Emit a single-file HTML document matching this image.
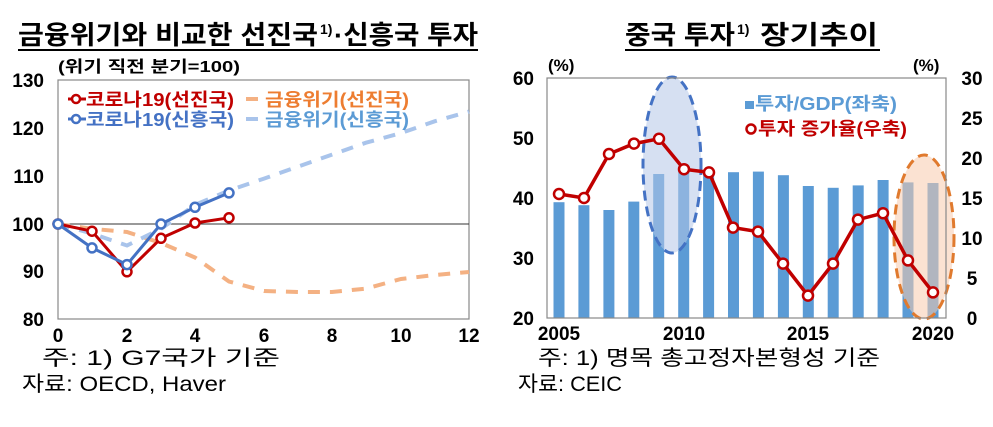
<!DOCTYPE html>
<html><head><meta charset="utf-8"><style>
body{margin:0;background:#fff;width:993px;height:422px;overflow:hidden;font-family:"Liberation Sans","Noto Sans CJK KR",sans-serif}
svg text{font-family:"Liberation Sans","Noto Sans CJK KR",sans-serif}
</style></head><body>
<svg width="993" height="422" viewBox="0 0 993 422" xmlns="http://www.w3.org/2000/svg">
<text x="18" y="44" font-size="26" font-weight="bold" textLength="300" lengthAdjust="spacingAndGlyphs">금융위기와 비교한 선진국</text>
<text x="320" y="34" font-size="14" font-weight="bold">1)</text>
<text x="334" y="44" font-size="26" font-weight="bold" textLength="144" lengthAdjust="spacingAndGlyphs">·신흥국 투자</text>
<line x1="18" y1="50" x2="478" y2="50" stroke="#000" stroke-width="2"/>
<text x="625" y="44" font-size="26" font-weight="bold" textLength="110" lengthAdjust="spacingAndGlyphs">중국 투자</text>
<text x="737" y="34" font-size="14" font-weight="bold">1)</text>
<text x="760" y="44" font-size="26" font-weight="bold" textLength="118" lengthAdjust="spacingAndGlyphs">장기추이</text>
<line x1="625" y1="50" x2="880" y2="50" stroke="#000" stroke-width="2"/>

<!-- left chart -->
<text x="58" y="72" font-size="16" font-weight="bold" textLength="182" lengthAdjust="spacingAndGlyphs">(위기 직전 분기=100)</text>
<rect x="58" y="80" width="411" height="239" fill="none" stroke="#888" stroke-width="1.2"/>
<line x1="58" y1="224" x2="469" y2="224" stroke="#333" stroke-width="1"/>
<g font-size="19" font-weight="bold" text-anchor="end">
<text x="44" y="87">130</text><text x="44" y="135">120</text><text x="44" y="183">110</text><text x="44" y="231">100</text><text x="44" y="278">90</text><text x="44" y="326">80</text></g>
<g font-size="19" font-weight="bold" text-anchor="middle">
<text x="58" y="342">0</text><text x="127" y="342">2</text><text x="195" y="342">4</text><text x="264" y="342">6</text><text x="332" y="342">8</text><text x="401" y="342">10</text><text x="469" y="342">12</text></g>
<polyline fill="none" stroke="#F4B183" stroke-width="4" stroke-dasharray="12,10" points="58,224 92,228.8 127,232 161,243 195,257.5 229,281.5 264,291 298,292 332,292 366,288.6 401,279 435,275 469,272"/>
<polyline fill="none" stroke="#A9C4EB" stroke-width="4" stroke-dasharray="12,10" points="58,224 92,233.6 127,245.5 161,228.8 195,204.9 229,190.5 264,178.6 298,166.6 332,154.6 366,142.7 401,133.1 435,121.2 469,111.6"/>
<polyline fill="none" stroke="#C00000" stroke-width="3" points="58,224 92,231.2 127,271.8 161,238.3 195,223 229,217.8"/>
<g fill="#fff" stroke="#C00000" stroke-width="2.5"><circle cx="58" cy="224" r="4.5"/><circle cx="92" cy="231.2" r="4.5"/><circle cx="127" cy="271.8" r="4.5"/><circle cx="161" cy="238.3" r="4.5"/><circle cx="195" cy="223" r="4.5"/><circle cx="229" cy="217.8" r="4.5"/></g>
<polyline fill="none" stroke="#4472C4" stroke-width="3" points="58,224 92,247.9 127,264.6 161,224 195,207.3 229,192.9"/>
<g fill="#fff" stroke="#4472C4" stroke-width="2.5"><circle cx="58" cy="224" r="4.5"/><circle cx="92" cy="247.9" r="4.5"/><circle cx="127" cy="264.6" r="4.5"/><circle cx="161" cy="224" r="4.5"/><circle cx="195" cy="207.3" r="4.5"/><circle cx="229" cy="192.9" r="4.5"/></g>
<!-- legend -->
<line x1="68" y1="99" x2="86" y2="99" stroke="#C00000" stroke-width="3"/><circle cx="76" cy="99" r="4" fill="#fff" stroke="#C00000" stroke-width="2.5"/>
<text x="86" y="106" font-size="18" font-weight="bold" fill="#C00000" textLength="148" lengthAdjust="spacingAndGlyphs">코로나19(선진국)</text>
<line x1="68" y1="119" x2="86" y2="119" stroke="#4472C4" stroke-width="3"/><circle cx="76" cy="119" r="4" fill="#fff" stroke="#4472C4" stroke-width="2.5"/>
<text x="86" y="126" font-size="18" font-weight="bold" fill="#4472C4" textLength="148" lengthAdjust="spacingAndGlyphs">코로나19(신흥국)</text>
<line x1="246" y1="99" x2="258" y2="99" stroke="#F4B183" stroke-width="4"/>
<text x="265" y="106" font-size="18" font-weight="bold" fill="#ED7D31" textLength="144" lengthAdjust="spacingAndGlyphs">금융위기(선진국)</text>
<line x1="246" y1="119" x2="258" y2="119" stroke="#A9C4EB" stroke-width="4"/>
<text x="265" y="126" font-size="18" font-weight="bold" fill="#5B9BD5" textLength="144" lengthAdjust="spacingAndGlyphs">금융위기(신흥국)</text>
<text x="42" y="365" font-size="21" textLength="238" lengthAdjust="spacingAndGlyphs">주: 1) G7국가 기준</text>
<text x="22" y="391" font-size="21" textLength="204" lengthAdjust="spacingAndGlyphs">자료: OECD, Haver</text>

<!-- right chart -->
<text x="548" y="71" font-size="17" font-weight="bold">(%)</text>
<text x="913" y="71" font-size="17" font-weight="bold">(%)</text>
<g font-size="19" font-weight="bold" text-anchor="end">
<text x="534" y="85">60</text><text x="534" y="145">50</text><text x="534" y="205">40</text><text x="534" y="265">30</text><text x="534" y="325">20</text></g>
<g font-size="19" font-weight="bold" text-anchor="middle">
<text x="972" y="85">30</text><text x="972" y="125">25</text><text x="972" y="165">20</text><text x="972" y="205">15</text><text x="972" y="245">10</text><text x="972" y="285">5</text><text x="972" y="325">0</text></g>
<g font-size="19" font-weight="bold" text-anchor="middle">
<text x="559" y="340">2005</text><text x="684" y="340">2010</text><text x="808" y="340">2015</text><text x="933" y="340">2020</text></g>
<g fill="#5B9BD5">
<rect x="553.5" y="202.2" width="11" height="115.8"/>
<rect x="578.4" y="205.2" width="11" height="112.8"/>
<rect x="603.4" y="210" width="11" height="108"/>
<rect x="628.3" y="201.6" width="11" height="116.4"/>
<rect x="653.2" y="174" width="11" height="144"/>
<rect x="678.2" y="169.8" width="11" height="148.2"/>
<rect x="703.1" y="171" width="11" height="147"/>
<rect x="728" y="172.2" width="11" height="145.8"/>
<rect x="752.9" y="171.6" width="11" height="146.4"/>
<rect x="777.9" y="175.2" width="11" height="142.8"/>
<rect x="802.8" y="186" width="11" height="132"/>
<rect x="827.7" y="187.8" width="11" height="130.2"/>
<rect x="852.7" y="185.4" width="11" height="132.6"/>
<rect x="877.6" y="180" width="11" height="138"/>
<rect x="902.5" y="182.4" width="11" height="135.6"/>
<rect x="927.5" y="183" width="11" height="135"/>
</g>
<ellipse cx="672" cy="165" rx="29" ry="88" fill="#B4C7E7" fill-opacity="0.55" stroke="#4472C4" stroke-width="3" stroke-dasharray="10,6"/>
<ellipse cx="924" cy="237" rx="30" ry="82" fill="#F8CBAD" fill-opacity="0.55" stroke="#E07A2E" stroke-width="3" stroke-dasharray="10,6"/>
<rect x="547" y="78" width="399" height="240" fill="none" stroke="#888" stroke-width="1.2"/>
<polyline fill="none" stroke="#C00000" stroke-width="3.5" points="559,194 584,198 609,154 634,143.6 659,138.8 684,169.2 709,172.4 733,227.6 758,231.6 783,263.6 808,295.6 833,263.6 858,219.6 883,213.2 908,260.4 933,292.4"/>
<g fill="#fff" stroke="#C00000" stroke-width="2.5">
<circle cx="559" cy="194" r="5"/><circle cx="584" cy="198" r="5"/><circle cx="609" cy="154" r="5"/><circle cx="634" cy="143.6" r="5"/><circle cx="659" cy="138.8" r="5"/><circle cx="684" cy="169.2" r="5"/><circle cx="709" cy="172.4" r="5"/><circle cx="733" cy="227.6" r="5"/><circle cx="758" cy="231.6" r="5"/><circle cx="783" cy="263.6" r="5"/><circle cx="808" cy="295.6" r="5"/><circle cx="833" cy="263.6" r="5"/><circle cx="858" cy="219.6" r="5"/><circle cx="883" cy="213.2" r="5"/><circle cx="908" cy="260.4" r="5"/><circle cx="933" cy="292.4" r="5"/></g>
<rect x="745" y="101" width="9" height="8" fill="#5B9BD5"/>
<text x="755" y="110" font-size="18" font-weight="bold" fill="#5B9BD5" textLength="142" lengthAdjust="spacingAndGlyphs">투자/GDP(좌축)</text>
<circle cx="751" cy="129" r="4.5" fill="#fff" stroke="#C00000" stroke-width="2.5"/>
<text x="758" y="135" font-size="18" font-weight="bold" fill="#C00000" textLength="149" lengthAdjust="spacingAndGlyphs">투자 증가율(우축)</text>
<text x="538" y="365" font-size="21" textLength="342" lengthAdjust="spacingAndGlyphs">주: 1) 명목 총고정자본형성 기준</text>
<text x="518" y="391" font-size="21" textLength="104" lengthAdjust="spacingAndGlyphs">자료: CEIC</text>
</svg>
</body></html>
